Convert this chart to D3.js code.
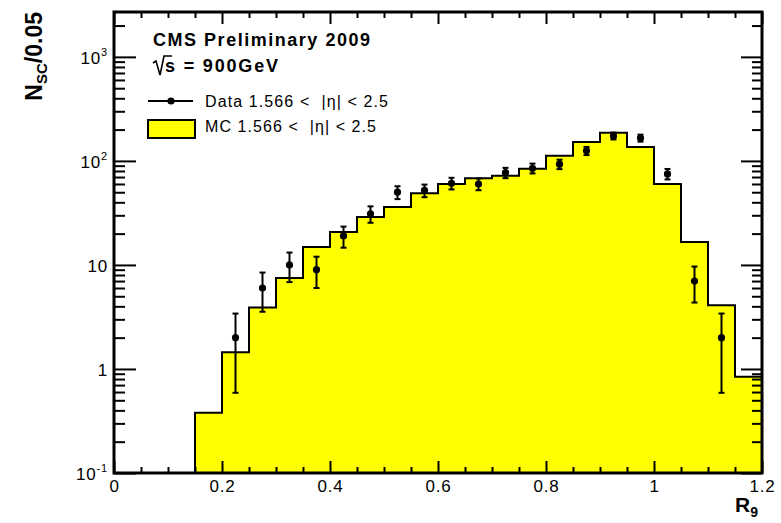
<!DOCTYPE html>
<html>
<head>
<meta charset="utf-8">
<script src="https://cdn.jsdelivr.net/npm/d3@7"></script>
<style>
  html, body { margin: 0; padding: 0; background: #fff; }
  svg { display: block; font-family: "Liberation Sans", Arial, Helvetica, sans-serif; }
</style>
</head>
<body>
<svg id="chart" width="781" height="523"></svg>
<script>
// R9 distribution of superclusters in the endcap, 900 GeV collisions
const binLow = [0.15, 0.20, 0.25, 0.30, 0.35, 0.40, 0.45, 0.50, 0.55, 0.60, 0.65,
                0.70, 0.75, 0.80, 0.85, 0.90, 0.95, 1.00, 1.05, 1.10, 1.15];
const binWidth = 0.05;
const mcCounts = [0.38, 1.45, 3.9, 7.5, 14.9, 20.7, 28.9, 36, 49, 60, 68,
                  72, 84, 112, 152, 186, 136, 60, 16.6, 4.1, 0.84];

const dataX = [0.225, 0.275, 0.325, 0.375, 0.425, 0.475, 0.525, 0.575, 0.625, 0.675,
               0.725, 0.775, 0.825, 0.875, 0.925, 0.975, 1.025, 1.075, 1.125];
const dataCounts = [2, 6, 10, 9, 19, 31, 50, 52, 61, 60, 77, 85, 93, 125, 174, 166, 75, 7, 2];
const dataErr = [1.41, 2.45, 3.16, 3.0, 4.36, 5.57, 7.07, 7.21, 7.81, 7.75,
                 8.77, 9.22, 9.64, 11.18, 13.19, 12.88, 8.66, 2.65, 1.41];

const xTicks = [0, 0.2, 0.4, 0.6, 0.8, 1.0, 1.2];
const xTickLabels = ["0", "0.2", "0.4", "0.6", "0.8", "1", "1.2"];
const yTicks = [0.1, 1, 10, 100, 1000];
const yTickBase = ["10", "1", "10", "10", "10"];
const yTickExp = ["-1", "", "", "2", "3"];

const xRange = [0, 1.2];
const yRange = [0.1, 2700];

const svg = d3.select("#chart");
const L = 114, R = 762, T = 12, B = 473;

const x = d3.scaleLinear().domain(xRange).range([L, R]);
const y = d3.scaleLog().domain(yRange).range([B, T]);

// ---- MC histogram (filled step outline)
const pts = [[binLow[0], yRange[0]]];
binLow.forEach((lo, i) => {
  pts.push([lo, mcCounts[i]]);
  pts.push([lo + binWidth, mcCounts[i]]);
});
pts.push([binLow[binLow.length - 1] + binWidth, yRange[0]]);

const line = d3.line().x(d => x(d[0])).y(d => y(d[1]));
svg.append("path")
  .attr("d", line(pts) + "Z")
  .attr("fill", "#ffff00")
  .attr("stroke", "#000")
  .attr("stroke-width", 2)
  .attr("stroke-linejoin", "miter");

// ---- data points with vertical error bars
const dataG = svg.append("g");
dataX.forEach((cx, i) => {
  const v = dataCounts[i], e = dataErr[i];
  const lo = Math.max(v - e, yRange[0]);
  const hi = v + e;
  dataG.append("line")
    .attr("x1", x(cx)).attr("x2", x(cx))
    .attr("y1", y(lo)).attr("y2", y(hi))
    .attr("stroke", "#000").attr("stroke-width", 2);
  [lo, hi].forEach(t => {
    dataG.append("line")
      .attr("x1", x(cx) - 3).attr("x2", x(cx) + 3)
      .attr("y1", y(t)).attr("y2", y(t))
      .attr("stroke", "#000").attr("stroke-width", 2);
  });
  dataG.append("circle")
    .attr("cx", x(cx)).attr("cy", y(v)).attr("r", 3.6)
    .attr("fill", "#000");
});

// ---- axes (ticks pointing into the frame)
const xMinor = d3.range(0, 1.2001, 0.05).filter(v => !xTicks.some(t => Math.abs(t - v) < 1e-6));
const yMinor = [];
[0.1, 1, 10, 100, 1000].forEach(dec => {
  for (let k = 2; k <= 9; k++) {
    const v = dec * k;
    if (v <= yRange[1]) yMinor.push(v);
  }
});

function styleAxis(g) {
  g.select(".domain").remove();
  g.selectAll(".tick line").attr("stroke", "#000").attr("stroke-width", 2);
}

// bottom
svg.append("g").attr("transform", `translate(0,${B})`)
  .call(d3.axisBottom(x).tickValues(xTicks).tickSize(-12).tickPadding(7)
        .tickFormat((d, i) => xTickLabels[i]))
  .call(styleAxis)
  .call(g => g.selectAll("text").attr("font-size", 17).attr("fill", "#000")
              .attr("font-family", "Liberation Sans, Arial, sans-serif").attr("letter-spacing", 0.8));
svg.append("g").attr("transform", `translate(0,${B})`)
  .call(d3.axisBottom(x).tickValues(xMinor).tickSize(-6).tickFormat(""))
  .call(styleAxis);
// top
svg.append("g").attr("transform", `translate(0,${T})`)
  .call(d3.axisTop(x).tickValues(xTicks).tickSize(-12).tickFormat(""))
  .call(styleAxis);
svg.append("g").attr("transform", `translate(0,${T})`)
  .call(d3.axisTop(x).tickValues(xMinor).tickSize(-6).tickFormat(""))
  .call(styleAxis);
// left
svg.append("g").attr("transform", `translate(${L},0)`)
  .call(d3.axisLeft(y).tickValues(yTicks).tickSize(-22).tickPadding(6).tickFormat(""))
  .call(styleAxis)
  .call(g => g.selectAll(".tick text").each(function (d, i) {
    const t = d3.select(this)
      .attr("font-size", 17).attr("fill", "#000")
      .attr("font-family", "Liberation Sans, Arial, sans-serif")
      .attr("letter-spacing", 0.8)
      .attr("text-anchor", "end")
      .attr("x", -6).attr("dy", "0.36em");
    t.append("tspan").text(yTickBase[i]);
    if (yTickExp[i]) {
      t.append("tspan").attr("font-size", 11).attr("dy", "-0.7em").text(yTickExp[i]);
    }
  }));
svg.append("g").attr("transform", `translate(${L},0)`)
  .call(d3.axisLeft(y).tickValues(yMinor).tickSize(-11).tickFormat(""))
  .call(styleAxis);
// right
svg.append("g").attr("transform", `translate(${R},0)`)
  .call(d3.axisRight(y).tickValues(yTicks).tickSize(-21).tickFormat(""))
  .call(styleAxis);
svg.append("g").attr("transform", `translate(${R},0)`)
  .call(d3.axisRight(y).tickValues(yMinor).tickSize(-10).tickFormat(""))
  .call(styleAxis);

// frame
svg.append("rect")
  .attr("x", L).attr("y", T).attr("width", R - L).attr("height", B - T)
  .attr("fill", "none").attr("stroke", "#000").attr("stroke-width", 3);

// ---- axis titles
const yTitle = svg.append("text")
  .attr("transform", `translate(42,${T}) rotate(-90)`)
  .attr("text-anchor", "end")
  .attr("font-size", 23).attr("font-weight", "bold").attr("fill", "#000");
yTitle.append("tspan").text("N");
yTitle.append("tspan").attr("font-size", 15).attr("dy", 5).text("SC");
yTitle.append("tspan").attr("dy", -5).text("/0.05");

const xTitle = svg.append("text")
  .attr("x", 735).attr("y", 512)
  .attr("font-size", 21).attr("font-weight", "bold").attr("fill", "#000");
xTitle.append("tspan").text("R");
xTitle.append("tspan").attr("font-size", 14).attr("dy", 5).text("9");

// ---- labels and legend
svg.append("text")
  .attr("x", 153).attr("y", 46)
  .attr("font-size", 18).attr("font-weight", "bold").attr("fill", "#000")
  .attr("textLength", 217).attr("lengthAdjust", "spacing")
  .text("CMS Preliminary 2009");

const sq = svg.append("g").attr("font-size", 18).attr("font-weight", "bold").attr("fill", "#000");
sq.append("path")
  .attr("d", "M153,63 L156,61 L160,75 L164,56 L172,56")
  .attr("fill", "none").attr("stroke", "#000").attr("stroke-width", 1.6);
sq.append("text").attr("x", 165).attr("y", 72)
  .attr("textLength", 113).attr("lengthAdjust", "spacing")
  .text("s = 900GeV");

// data entry
svg.append("line").attr("x1", 148).attr("x2", 193).attr("y1", 101).attr("y2", 101)
  .attr("stroke", "#000").attr("stroke-width", 2);
svg.append("circle").attr("cx", 171).attr("cy", 101).attr("r", 3.6).attr("fill", "#000");
svg.append("text").attr("x", 205).attr("y", 107)
  .attr("font-size", 16).attr("fill", "#000")
  .attr("textLength", 183).attr("lengthAdjust", "spacing")
  .attr("xml:space", "preserve")
  .text("Data 1.566 <  |\u03b7| < 2.5");

// MC entry
svg.append("rect").attr("x", 148).attr("y", 120).attr("width", 47).attr("height", 18)
  .attr("fill", "#ffff00").attr("stroke", "#000").attr("stroke-width", 2);
svg.append("text").attr("x", 205).attr("y", 132)
  .attr("font-size", 16).attr("fill", "#000")
  .attr("textLength", 171).attr("lengthAdjust", "spacing")
  .attr("xml:space", "preserve")
  .text("MC 1.566 <  |\u03b7| < 2.5");
</script>
</body>
</html>
